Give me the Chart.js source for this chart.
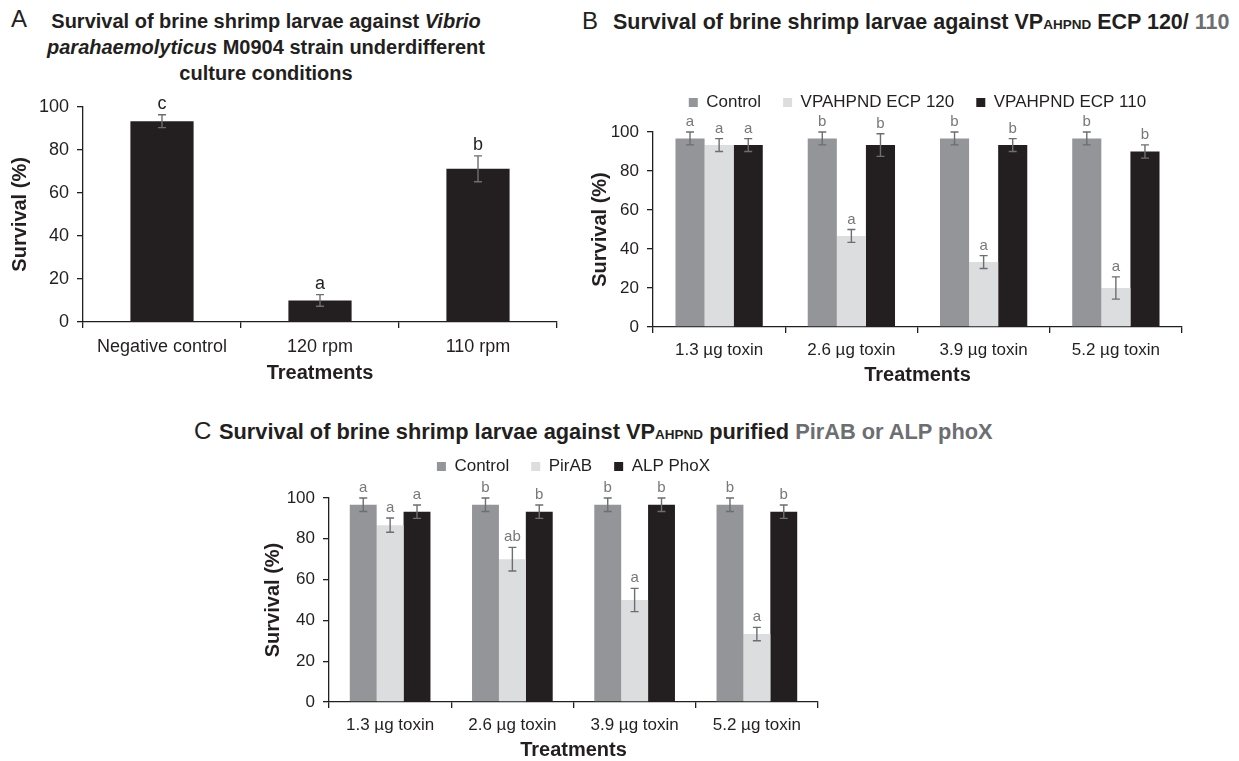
<!DOCTYPE html>
<html>
<head>
<meta charset="utf-8">
<script src="https://cdn.jsdelivr.net/npm/chart.js@4.4.1/dist/chart.umd.min.js"></script>
<style>
  html, body { margin: 0; padding: 0; background: #fff; overflow: hidden; }
  body { width: 1239px; height: 761px; position: relative; font-family: 'Liberation Sans', Arial, sans-serif; color: #231f20; }
  canvas { position: absolute; }
  .panel { position: absolute; font-size: 24px; line-height: 1; }
  .title { position: absolute; font-weight: bold; font-size: 21.5px; line-height: 26px; white-space: nowrap; }
  .sc { font-size: 13.5px; }
  .grey { color: #6d6e71; }
</style>
</head>
<body>
<div class="panel" style="left:11px;top:7px">A</div>
<div class="title" style="left:16px;top:8px;width:500px;text-align:center;font-size:20px">Survival of brine shrimp larvae against <i>Vibrio</i><br><i>parahaemolyticus</i> M0904 strain underdifferent<br>culture conditions</div>
<div class="panel" style="left:582px;top:9px">B</div>
<div class="title" style="left:613px;top:9px">Survival of brine shrimp larvae against VP<span class="sc">AHPND</span> ECP 120/ <span class="grey">110</span></div>
<div class="panel" style="left:194px;top:419px">C</div>
<div class="title" style="left:219px;top:419px;font-size:21.8px">Survival of brine shrimp larvae against VP<span class="sc">AHPND</span> purified <span class="grey">PirAB or ALP phoX</span></div>

<canvas id="chartA" width="580" height="300" style="left:0px;top:88px"></canvas>
<canvas id="chartB" width="679" height="318" style="left:560px;top:72px"></canvas>
<canvas id="chartC" width="640" height="325" style="left:240px;top:436px"></canvas>

<script>
// panel A
const treatmentsA = ['Negative control', '120 rpm', '110 rpm'];
const survivalA = [93.3, 10, 71.2];
const errorA = [3, 2.7, 6];
const lettersA = ['c', 'a', 'b'];

// panel B and C share the toxin doses
const toxinDoses = ['1.3 µg toxin', '2.6 µg toxin', '3.9 µg toxin', '5.2 µg toxin'];

const controlB = [96.7, 96.7, 96.7, 96.7];
const controlBErr = [3.3, 3.3, 3.3, 3.3];
const controlBLetters = ['a', 'b', 'b', 'b'];
const ecp120 = [93.3, 46.7, 33.3, 20];
const ecp120Err = [3.3, 3.3, 3.3, 5.7];
const ecp120Letters = ['a', 'a', 'a', 'a'];
const ecp110 = [93.3, 93.3, 93.3, 90];
const ecp110Err = [3.3, 5.8, 3.3, 3.4];
const ecp110Letters = ['a', 'b', 'b', 'b'];

const controlC = [96.7, 96.7, 96.7, 96.7];
const controlCErr = [3.3, 3.3, 3.3, 3.3];
const controlCLetters = ['a', 'b', 'b', 'b'];
const pirAB = [86.7, 70, 50, 33.3];
const pirABErr = [3.5, 5.8, 5.7, 3.3];
const pirABLetters = ['a', 'ab', 'a', 'a'];
const alpPhoX = [93.3, 93.3, 96.7, 93.3];
const alpPhoXErr = [3.3, 3.3, 3.3, 3.3];
const alpPhoXLetters = ['a', 'b', 'b', 'b'];

const INK = '#231f20';
const GREY = '#939598';
const LIGHT = '#dcdddf';
const ERR = '#6d6e71';
const FONT = "'Liberation Sans', Arial, sans-serif";

Chart.defaults.font.family = FONT;
Chart.defaults.color = INK;
Chart.defaults.animation = false;

// error bars + significance letters
const errorLetters = {
  id: 'errorLetters',
  afterDatasetsDraw(chart, args, opts) {
    const ctx = chart.ctx;
    const y = chart.scales.y;
    ctx.save();
    chart.data.datasets.forEach((ds, i) => {
      chart.getDatasetMeta(i).data.forEach((bar, j) => {
        const v = ds.data[j], e = ds.errors[j];
        const top = y.getPixelForValue(v + e);
        const bot = y.getPixelForValue(v - e);
        ctx.strokeStyle = ERR;
        ctx.lineWidth = 1.4;
        ctx.beginPath();
        ctx.moveTo(bar.x, top); ctx.lineTo(bar.x, bot);
        ctx.moveTo(bar.x - opts.cap, top); ctx.lineTo(bar.x + opts.cap, top);
        ctx.moveTo(bar.x - opts.cap, bot); ctx.lineTo(bar.x + opts.cap, bot);
        ctx.stroke();
        ctx.fillStyle = opts.color;
        ctx.font = opts.size + 'px ' + FONT;
        ctx.textAlign = 'center';
        ctx.textBaseline = 'alphabetic';
        ctx.fillText(ds.letters[j], bar.x, top - 6);
      });
    });
    ctx.restore();
  }
};

function barChart(id, labels, datasets, lay) {
  return new Chart(document.getElementById(id), {
    type: 'bar',
    data: { labels: labels, datasets: datasets },
    options: {
      responsive: false,
      layout: { padding: { top: lay.padTop, right: lay.padRight, left: 0, bottom: 0 } },
      datasets: { bar: { categoryPercentage: lay.groupWidth, barPercentage: 1 } },
      plugins: {
        legend: lay.legend ? {
          display: true, position: 'top', fullSize: false,
          labels: { boxWidth: 9, boxHeight: 9, padding: 22, color: INK, font: { size: 17 } }
        } : { display: false },
        // empty title used as a gap between legend and plot
        title: lay.spacer ? { display: true, text: '', weight: 500, padding: 0, font: { size: lay.spacer, lineHeight: 1 } } : { display: false },
        tooltip: { enabled: false },
        errorLetters: { cap: 4, size: lay.letterSize, color: lay.letterColor }
      },
      scales: {
        x: {
          grid: { display: true, drawOnChartArea: false, drawTicks: true, tickLength: 6, color: INK, lineWidth: 1.3, offset: true },
          border: { display: true, color: INK, width: 1.3 },
          ticks: { color: INK, font: { size: lay.tickSize }, padding: lay.xTickPad, maxRotation: 0, autoSkip: false },
          title: { display: true, text: 'Treatments', color: INK, font: { size: 20, weight: 'bold', lineHeight: 1 }, padding: { top: 0, bottom: lay.xTitlePad } },
          afterFit: s => { s.height = lay.xHeight; }
        },
        y: {
          min: 0, max: 100,
          grid: { display: true, drawOnChartArea: false, drawTicks: true, tickLength: 6, color: INK, lineWidth: 1.3 },
          border: { display: true, color: INK, width: 1.3 },
          ticks: { stepSize: 20, color: INK, font: { size: lay.tickSize }, padding: 8 },
          title: { display: true, text: 'Survival (%)', color: INK, font: { size: 20, weight: 'bold', lineHeight: 1 }, padding: { top: lay.yTitlePad, bottom: 0 } },
          afterFit: s => { s.width = lay.yWidth; }
        }
      }
    },
    plugins: [errorLetters]
  });
}

barChart('chartA', treatmentsA, [
  { label: 'Survival', data: survivalA, errors: errorA, letters: lettersA, backgroundColor: INK, borderWidth: 0 }
], { padTop: 15, padRight: 23, groupWidth: 0.4, legend: false, spacer: 0, letterSize: 18, letterColor: INK,
     tickSize: 18, xTickPad: 8, xTitlePad: 5, xHeight: 66, yTitlePad: 10, yWidth: 83 });

barChart('chartB', toxinDoses, [
  { label: 'Control', data: controlB, errors: controlBErr, letters: controlBLetters, backgroundColor: GREY, borderWidth: 0 },
  { label: 'VPAHPND ECP 120', data: ecp120, errors: ecp120Err, letters: ecp120Letters, backgroundColor: LIGHT, borderWidth: 0 },
  { label: 'VPAHPND ECP 110', data: ecp110, errors: ecp110Err, letters: ecp110Letters, backgroundColor: INK, borderWidth: 0 }
], { padTop: 0, padRight: 57, groupWidth: 0.66, legend: true, spacer: 11, letterSize: 15, letterColor: '#77787b',
     tickSize: 17, xTickPad: 7, xTitlePad: 5, xHeight: 63, yTitlePad: 30, yWidth: 93 });

barChart('chartC', toxinDoses, [
  { label: 'Control', data: controlC, errors: controlCErr, letters: controlCLetters, backgroundColor: GREY, borderWidth: 0 },
  { label: 'PirAB', data: pirAB, errors: pirABErr, letters: pirABLetters, backgroundColor: LIGHT, borderWidth: 0 },
  { label: 'ALP PhoX', data: alpPhoX, errors: alpPhoXErr, letters: alpPhoXLetters, backgroundColor: INK, borderWidth: 0 }
], { padTop: 0, padRight: 62, groupWidth: 0.66, legend: true, spacer: 13, letterSize: 15, letterColor: '#77787b',
     tickSize: 17, xTickPad: 7, xTitlePad: 1, xHeight: 59, yTitlePad: 23, yWidth: 89 });
</script>
</body>
</html>
